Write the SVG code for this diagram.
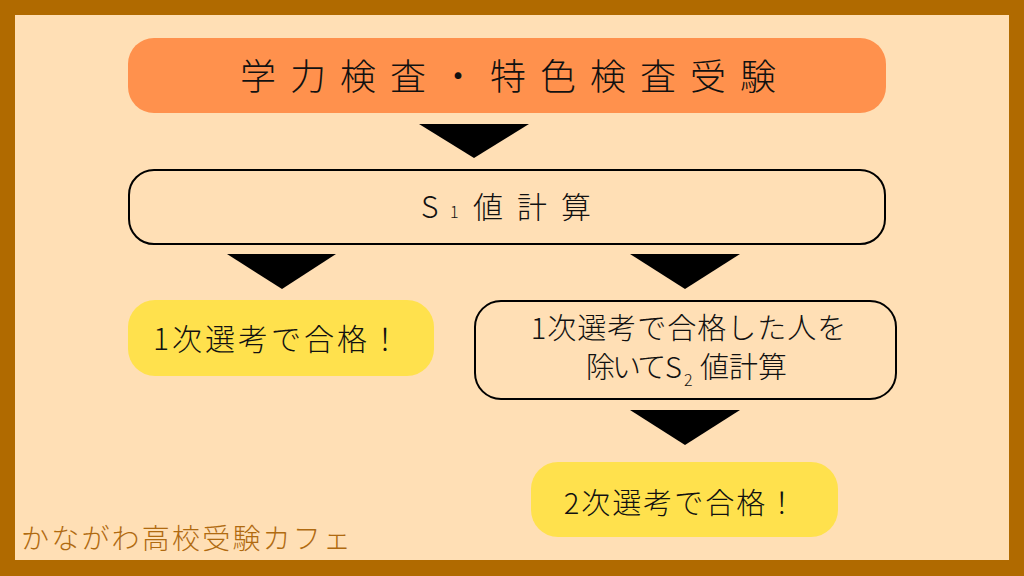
<svg xmlns="http://www.w3.org/2000/svg" width="1024" height="576" viewBox="0 0 1024 576">
<style>
.t{font-family:"Noto Sans CJK JP","Noto Sans",sans-serif;fill:#111;font-weight:300;}
.arrow{fill:#000;}
</style>
<rect x="0" y="0" width="1024" height="576" fill="#B06A00"/>
<rect x="15" y="15" width="994" height="545" fill="#FFDFB5"/>
<g id="connectors">
<polygon class="arrow" points="419,124 529,124 474,158"/>
<polygon class="arrow" points="227,254 336,254 282,289"/>
<polygon class="arrow" points="630,254 740,254 685,289"/>
<polygon class="arrow" points="630,410 740,410 685,445"/>
</g>
<g id="node-exam">
<rect x="128" y="38" width="758" height="75" rx="26" fill="#FF914D"/>
<text class="t" x="240" y="90" font-size="36" letter-spacing="14">学力検査・特色検査受験</text>
</g>
<g id="node-s1">
<rect x="129" y="170" width="756" height="74" rx="25" fill="none" stroke="#000" stroke-width="2"/>
<text class="t" y="218"><tspan x="421" font-size="30">S</tspan><tspan x="450" font-size="16">1</tspan><tspan x="473" font-size="30" letter-spacing="14">値計算</tspan></text>
</g>
<g id="node-pass1">
<rect x="128" y="300" width="306" height="76" rx="27" fill="#FFE14D"/>
<text class="t" x="278" y="350" font-size="30" letter-spacing="3" text-anchor="middle">1次選考で合格！</text>
</g>
<g id="node-s2">
<rect x="475" y="301" width="421" height="98" rx="26" fill="none" stroke="#000" stroke-width="2"/>
<text class="t" x="689" y="339" font-size="29" letter-spacing="1" text-anchor="middle">1次選考で合格した人を</text>
<text class="t" font-size="29"><tspan x="586" y="378" letter-spacing="-3">除いて</tspan><tspan x="665" y="378">S</tspan><tspan x="684" y="386" font-size="16">2</tspan><tspan x="700" y="378">値計算</tspan></text>
</g>
<g id="node-pass2">
<rect x="531" y="462" width="307" height="75" rx="27" fill="#FFE14D"/>
<text class="t" x="681" y="514" font-size="29" letter-spacing="2" text-anchor="middle">2次選考で合格！</text>
</g>
<text x="21" y="549" font-family="Noto Sans CJK JP, sans-serif" font-weight="300" font-size="28" letter-spacing="2.2" fill="#B06A10">かながわ高校受験カフェ</text>
</svg>
